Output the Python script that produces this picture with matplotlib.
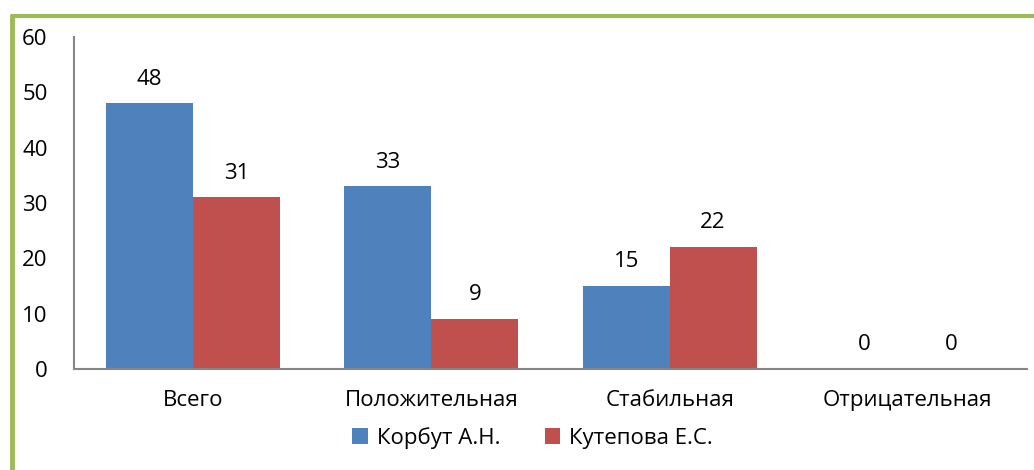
import matplotlib.pyplot as plt
import numpy as np

# Данные диаграммы
categories = ['Всего', 'Положительная', 'Стабильная', 'Отрицательная']
korbut = [48, 33, 15, 0]
kutepova = [31, 9, 22, 0]
series_names = ['Корбут А.Н.', 'Кутепова Е.С.']
yticks = [0, 10, 20, 30, 40, 50, 60]

plt.rcParams['font.family'] = ['Open Sans', 'DejaVu Sans']

BLUE = '#4F81BD'
RED = '#C0504D'
AXIS = '#868686'
GREEN = '#9BBB59'
FS = 16

fig = plt.figure(figsize=(10.34, 4.70), dpi=100)
ax = fig.add_axes([74 / 1034, 1 - 369 / 470, (1027 - 74) / 1034, (369 - 37) / 470])

x = np.arange(len(categories))
w = 0.365
b1 = ax.bar(x - w / 2, korbut, w, color=BLUE, label=series_names[0])
b2 = ax.bar(x + w / 2, kutepova, w, color=RED, label=series_names[1])

for bars in (b1, b2):
    for r in bars:
        ax.annotate(str(int(r.get_height())), (r.get_x() + r.get_width() / 2, r.get_height()),
                    xytext=(0, 10), textcoords='offset points', ha='center', va='bottom', fontsize=FS)

ax.set_xlim(-0.5, len(categories) - 0.5)
ax.set_ylim(0, 60)
ax.set_yticks(yticks)
ax.set_xticks(x)
ax.set_xticklabels(categories)
ax.tick_params(axis='both', length=0, labelsize=FS)
ax.tick_params(axis='y', pad=19)
ax.tick_params(axis='x', pad=15)
for s in ['top', 'right']:
    ax.spines[s].set_visible(False)
for s in ['left', 'bottom']:
    ax.spines[s].set_color(AXIS)
    ax.spines[s].set_linewidth(1.5)

leg = fig.legend(loc='center', bbox_to_anchor=(0.515, 1 - 438 / 470), ncol=2, frameon=False,
                 fontsize=FS, handlelength=0.7, handleheight=0.7, handletextpad=0.4,
                 columnspacing=2.0)

# Зеленая рамка (видны только верх и левый край)
fig.add_artist(plt.Line2D([11 / 1034, 1.0], [1 - 15.5 / 470, 1 - 15.5 / 470],
                          transform=fig.transFigure, color=GREEN, linewidth=3,
                          solid_capstyle='butt'))
fig.add_artist(plt.Line2D([11.5 / 1034, 11.5 / 1034], [0, 1 - 14 / 470],
                          transform=fig.transFigure, color=GREEN, linewidth=3.5,
                          solid_capstyle='butt'))

fig.savefig('out.png', dpi=100)
